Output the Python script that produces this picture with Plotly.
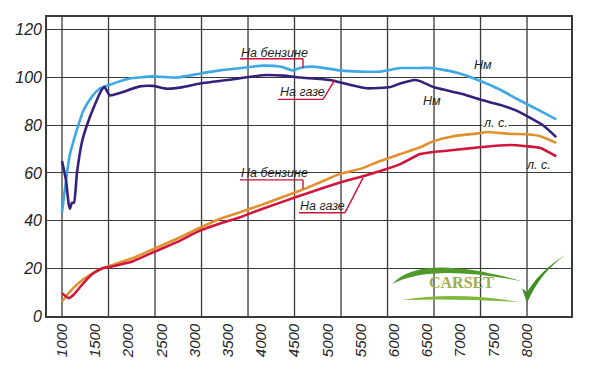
import plotly.graph_objects as go

# ---------------- data ----------------
rpm_bnz_nm = [1000, 1075, 1120, 1170, 1200, 1320, 1450, 1570, 1720, 2020, 2370, 2730, 3080, 3380,
              3700, 4025, 4300, 4480, 4580, 4780, 5180, 5500, 5790, 6090, 6300, 6570, 6950, 7260,
              7590, 7850, 8200, 8440]
nm_bnz = [43.5, 60, 68, 73, 76, 86, 92, 95.4, 97, 99.6, 100.5, 100, 101.7, 103,
          104, 105, 104.5, 103, 104, 104.6, 103, 102.5, 102.5, 104, 104, 104, 102, 99,
          95, 91, 86, 82.5]

rpm_gas_nm = [1000, 1060, 1100, 1120, 1150, 1180, 1225, 1300, 1375, 1470, 1600, 1640, 1720, 1870,
              2170, 2370, 2580, 2820, 3080, 3570, 4025, 4330, 4580, 5030, 5330, 5590, 5940, 6090,
              6310, 6390, 6590, 6740, 7040, 7290, 7590, 7850, 8240, 8440]
nm_gas = [65, 57, 47, 45, 47.5, 47.5, 60, 73, 80, 87, 95, 96, 92.5, 93.5,
          96.3, 96.5, 95.3, 96, 97.5, 99.3, 101, 100.8, 100, 99, 97, 95.5, 96, 97.5,
          99, 98.5, 96, 95, 93, 90.8, 88.6, 86, 80, 75]

rpm_bnz_hp = [1000, 1075, 1170, 1320, 1470, 1620, 1750, 2070, 2370, 2730, 3077, 3380, 3680, 3980,
              4280, 4580, 4880, 5185, 5490, 5790, 6090, 6390, 6590, 6890, 7290, 7390, 7740, 8000,
              8200, 8440]
hp_bnz = [6, 8.8, 11.7, 15.4, 18, 20.1, 21.3, 24.3, 28, 32.4, 37, 40.8, 43.5, 46.4,
          49.5, 52.5, 56, 59.6, 61.7, 65, 67.9, 70.8, 73.3, 75.4, 76.7, 77.2, 76.4, 76.2,
          75.4, 72.6]

rpm_gas_hp = [1000, 1100, 1170, 1320, 1470, 1620, 1750, 2070, 2370, 2730, 3077, 3380, 3680, 3980,
              4580, 5185, 5490, 5790, 6090, 6390, 6590, 6890, 7290, 7740, 8000, 8200, 8440]
hp_gas = [9.6, 7.5, 8.8, 13.7, 17.9, 20.1, 20.8, 23, 26.7, 31, 35.8, 38.8, 41.4, 44.6,
          50.4, 56, 58.3, 60.8, 63.7, 67.9, 68.8, 69.6, 70.8, 71.7, 71.2, 70.5, 67]

x_tick_labels = list(range(1000, 8001, 500))
x_grid = list(range(1000, 8001, 700))
y_ticks = list(range(0, 121, 20))

# ---------------- style ----------------
C_BLUE = "#3ea8e6"
C_PURPLE = "#36207c"
C_ORANGE = "#e0902c"
C_RED = "#d0163c"
C_CONN = "#c8123a"
GRID = "#3a3a3a"
X_RANGE = [774, 8662]
Y_RANGE = [0, 125.4]

fig = go.Figure()


def add_line(x, y, color):
    fig.add_trace(go.Scatter(x=x, y=y, mode="lines",
                             line=dict(color=color, width=2.6, shape="spline", smoothing=0.5),
                             hoverinfo="skip", showlegend=False))


add_line(rpm_bnz_nm, nm_bnz, C_BLUE)
add_line(rpm_gas_nm, nm_gas, C_PURPLE)
add_line(rpm_bnz_hp, hp_bnz, C_ORANGE)
add_line(rpm_gas_hp, hp_gas, C_RED)


# pixel (page) -> data helper (only for decoration / label placement)
def px(xp, yp):
    return 1000 + (xp - 62) / 0.06643, (316 - yp) / 2.4


def path(points, close=True):
    s = ""
    for cmd, pts in points:
        coords = " ".join("%.2f,%.3f" % px(a, b) for a, b in pts)
        s += cmd + coords + " "
    if close:
        s += "Z"
    return s


shapes = []
# vertical grid lines (independent of the tick labels in the original)
for g in x_grid:
    shapes.append(dict(type="line", xref="x", yref="paper", x0=g, x1=g, y0=0, y1=1,
                       line=dict(color=GRID, width=1.3), layer="below"))


def seg(p1, p2):
    x0, y0 = px(*p1)
    x1, y1 = px(*p2)
    shapes.append(dict(type="line", xref="x", yref="y", x0=x0, y0=y0, x1=x1, y1=y1,
                       line=dict(color=C_CONN, width=1.4)))


# connectors of the labels
seg((240, 57), (303, 57)); seg((303, 57), (303, 66))
seg((278, 98), (323, 98)); seg((323, 98), (335, 78))
seg((240, 179), (303, 179)); seg((303, 179), (303, 188))
seg((299, 212), (345, 212)); seg((345, 212), (363, 177))

# logo (decoration)
for d, col in [
    (path([("M", [(392, 284)]), ("Q", [(420, 252), (522, 281)]), ("Q", [(430, 263), (392, 284)])]), "#4f9a2a"),
    (path([("M", [(402, 300)]), ("Q", [(455, 291), (520, 302)]), ("Q", [(455, 298), (402, 300)])]), "#7fb83a"),
    (path([("M", [(522, 288)]), ("L", [(527, 303)]), ("Q", [(540, 272), (566, 254)]),
           ("Q", [(540, 270), (527, 292)])]), "#3f8f22"),
]:
    shapes.append(dict(type="path", xref="x", yref="y", path=d, fillcolor=col,
                       line=dict(width=0), layer="above"))

fig.update_layout(shapes=shapes)

LBL = dict(family="Liberation Sans, Arial, sans-serif", size=12.5, color="#1e1e1e", style="italic")


def label(xp, yp, text, anchor="left", bg=None):
    x, y = px(xp, yp)
    fig.add_annotation(x=x, y=y, xref="x", yref="y", text=text, showarrow=False,
                       xanchor=anchor, yanchor="middle", font=LBL,
                       bgcolor=bg if bg else "rgba(0,0,0,0)", borderpad=0)


label(240, 51, "На бензине")
label(279, 91, "На газе")
label(240, 172, "На бензине")
label(299, 205, "На газе")
label(483, 63, "Нм", "center")
label(432, 100, "Нм", "center")
label(495, 122, "л. с.", "center", "white")
label(538, 164, "л. с.", "center")

x, y = px(461, 282)
fig.add_annotation(x=x, y=y, xref="x", yref="y", text="<b>CARSET</b>", showarrow=False,
                   font=dict(family="Liberation Serif, DejaVu Serif, serif", size=16, color="#9cb04c"))

# the page body has an 8px default margin, so the figure is 8px smaller than the window
fig.update_layout(
    width=592, height=369,
    margin=dict(l=39, r=29, t=7, b=61),
    paper_bgcolor="white", plot_bgcolor="white",
    xaxis=dict(range=X_RANGE, tickvals=x_tick_labels, ticktext=[str(v) for v in x_tick_labels],
               tickangle=-90, showgrid=False, zeroline=False, ticks="",
               showline=True, mirror=True, linecolor=GRID, linewidth=1.6,
               tickfont=dict(family="Liberation Sans, Arial, sans-serif", size=15,
                             color="#222", style="italic")),
    yaxis=dict(range=Y_RANGE, tickvals=y_ticks, showgrid=True, gridcolor=GRID, gridwidth=1.3,
               zeroline=False, ticks="", showline=True, mirror=True, linecolor=GRID, linewidth=1.6,
               tickfont=dict(family="Liberation Sans, Arial, sans-serif", size=16,
                             color="#222", style="italic")),
)

fig.write_html("out.html")
